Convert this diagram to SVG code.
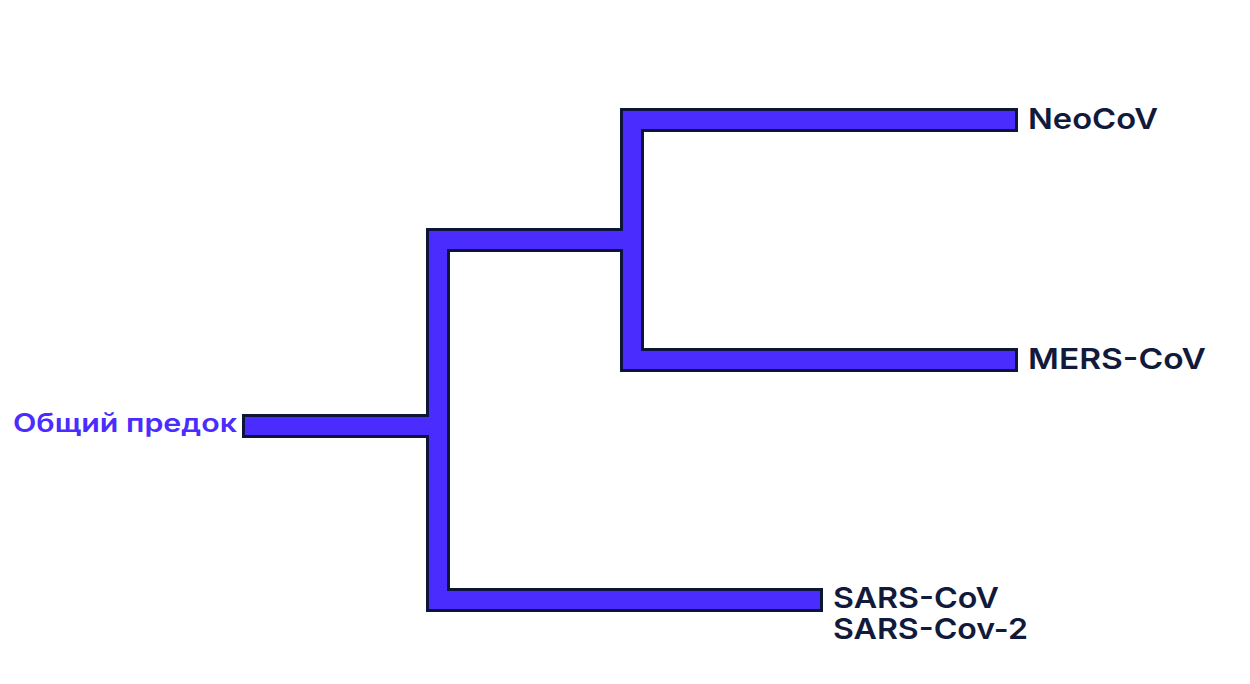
<svg xmlns="http://www.w3.org/2000/svg" width="1250" height="684" viewBox="0 0 1250 684">
<style>
.edge-o{fill:none;stroke:#0e1638;stroke-width:24;stroke-linejoin:miter;stroke-linecap:butt}
.edge-i{fill:none;stroke:#4a2cff;stroke-width:18;stroke-linejoin:miter;stroke-linecap:butt}
.lbl{font-family:Inter,"Liberation Sans",sans-serif;font-weight:600;font-size:29px;fill:#121a3c}
.root{font-family:Inter,"Liberation Sans",sans-serif;font-weight:600;font-size:25px;fill:#4a2cff}
</style>
<rect width="1250" height="684" fill="#ffffff"/>
<g id="connectors">
<path class="edge-o" d="M1018 120 H632 V360 H1018"/>
<path class="edge-o" d="M823 600 H438 V240 H632"/>
<path class="edge-o" d="M242 426 H438"/>
<path class="edge-i" d="M1015 120 H632 V360 H1015"/>
<path class="edge-i" d="M820 600 H438 V240 H632"/>
<path class="edge-i" d="M245 426 H438"/>
</g>
<g id="node-root"><text class="root" x="13" y="432" textLength="224" lengthAdjust="spacingAndGlyphs">Общий предок</text></g>
<g id="node-neocov"><text class="lbl" x="1028" y="129" textLength="130" lengthAdjust="spacingAndGlyphs">NeoCoV</text></g>
<g id="node-mers"><text class="lbl" x="1028" y="369" textLength="178" lengthAdjust="spacingAndGlyphs">MERS-CoV</text></g>
<g id="node-sars">
<text class="lbl" x="833" y="608" textLength="166" lengthAdjust="spacingAndGlyphs">SARS-CoV</text>
<text class="lbl" x="833" y="639" textLength="195" lengthAdjust="spacingAndGlyphs">SARS-Cov-2</text>
</g>
</svg>
